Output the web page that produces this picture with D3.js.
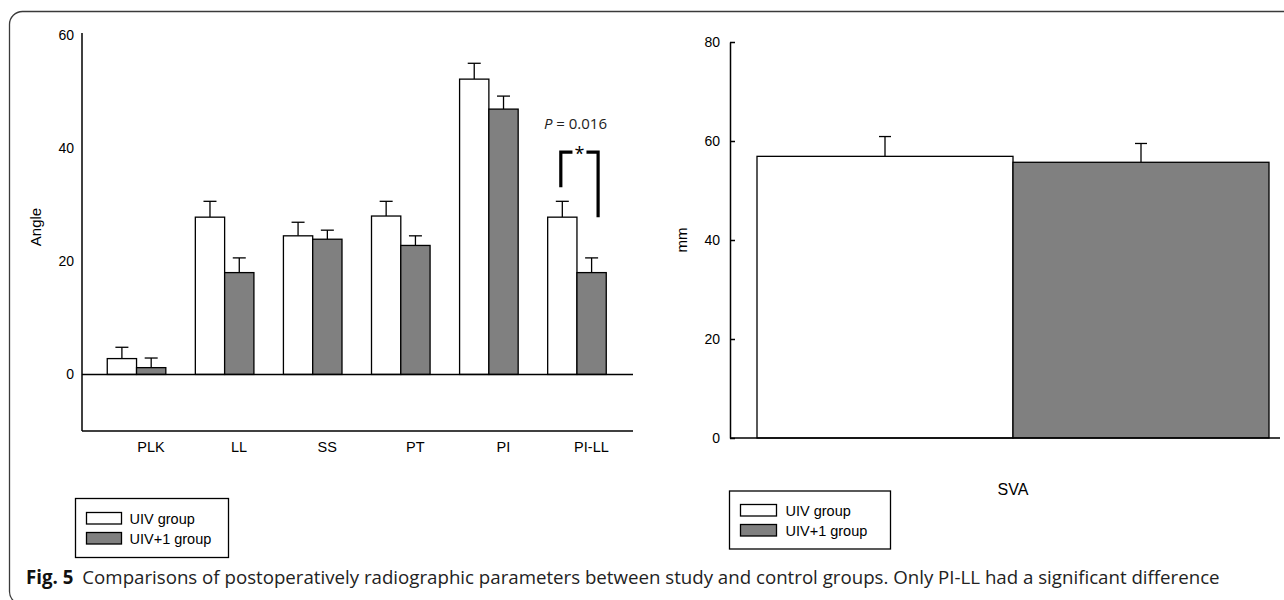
<!DOCTYPE html>
<html>
<head>
<meta charset="utf-8">
<script src="https://cdn.jsdelivr.net/npm/d3@7"></script>
<style>
  html, body { margin: 0; padding: 0; background: #fff; }
  svg { display: block; }
</style>
</head>
<body>
<svg id="chart" width="1284" height="600"></svg>
<script>
// ---------- data ----------
const categories = ["PLK", "LL", "SS", "PT", "PI", "PI-LL"];
const groups = ["UIV group", "UIV+1 group"];
const uivMeans = [2.8, 27.8, 24.5, 28.0, 52.2, 27.8];
const uivErrors = [2.0, 2.8, 2.4, 2.6, 2.8, 2.8];
const uiv1Means = [1.2, 18.0, 23.9, 22.8, 46.9, 18.0];
const uiv1Errors = [1.7, 2.6, 1.6, 1.7, 2.3, 2.6];
const leftTicks = [0, 20, 40, 60];

const svaCategory = ["SVA"];
const svaMeans = [56.9, 55.7];
const svaErrors = [4.0, 3.8];
const rightTicks = [0, 20, 40, 60, 80];

const pValueText = "0.016";
const bracketLevels = { top: 39.3, left: 33.1, right: 27.8 };

const captionBold = "Fig. 5";
const captionText = "Comparisons of postoperatively radiographic parameters between study and control groups. Only PI-LL had a significant difference";

const colors = ["#ffffff", "#808080"];

// ---------- setup ----------
const svg = d3.select("#chart");
const FONT = "'Liberation Sans', Arial, sans-serif";
const CAPFONT = "'Open Sans', 'Noto Sans', sans-serif";

// card border
svg.append("rect")
  .attr("x", 9.5).attr("y", 11.5)
  .attr("width", 1320).attr("height", 593)
  .attr("rx", 13).attr("ry", 13)
  .attr("fill", "none").attr("stroke", "#3a3a3a").attr("stroke-width", 1.3);

// ---------- left chart ----------
const L = { left: 82, right: 633, top: 33, bottom: 431 };
const yL = d3.scaleLinear().domain([-10, 60]).range([431, 35]);
const x0 = d3.scaleBand().domain(categories).range([92.5, 621]).paddingInner(0.335).paddingOuter(0.1675);
const x1 = d3.scaleBand().domain(groups).range([0, x0.bandwidth()]);

const leftG = svg.append("g");

leftG.append("line")
  .attr("x1", L.left).attr("x2", L.left)
  .attr("y1", L.top).attr("y2", yL(-10))
  .attr("stroke", "#000").attr("stroke-width", 1.5);
leftG.append("line")
  .attr("x1", L.left).attr("x2", L.right)
  .attr("y1", yL(-10)).attr("y2", yL(-10))
  .attr("stroke", "#000").attr("stroke-width", 1.5);

const yAxisL = d3.axisLeft(yL).tickValues(leftTicks).tickSize(0).tickPadding(8).tickFormat(d3.format("d"));
const yAxG = leftG.append("g").attr("transform", `translate(${L.left},0)`).call(yAxisL);
yAxG.select(".domain").remove();
yAxG.selectAll("text").attr("font-family", FONT).attr("font-size", 14).attr("fill", "#000");

const rows = categories.map((c, i) => ({
  cat: c,
  vals: [
    { g: groups[0], v: uivMeans[i], e: uivErrors[i] },
    { g: groups[1], v: uiv1Means[i], e: uiv1Errors[i] }
  ]
}));

const catG = leftG.selectAll("g.cat").data(rows).join("g")
  .attr("class", "cat")
  .attr("transform", d => `translate(${x0(d.cat)},0)`);

catG.selectAll("line.err").data(d => d.vals).join("line")
  .attr("class", "err")
  .attr("x1", d => x1(d.g) + x1.bandwidth() / 2)
  .attr("x2", d => x1(d.g) + x1.bandwidth() / 2)
  .attr("y1", d => yL(d.v)).attr("y2", d => yL(d.v + d.e))
  .attr("stroke", "#000").attr("stroke-width", 1.3);
catG.selectAll("line.cap").data(d => d.vals).join("line")
  .attr("class", "cap")
  .attr("x1", d => x1(d.g) + x1.bandwidth() / 2 - 6.5)
  .attr("x2", d => x1(d.g) + x1.bandwidth() / 2 + 6.5)
  .attr("y1", d => yL(d.v + d.e)).attr("y2", d => yL(d.v + d.e))
  .attr("stroke", "#000").attr("stroke-width", 1.3);

catG.selectAll("rect").data(d => d.vals).join("rect")
  .attr("x", d => x1(d.g))
  .attr("width", x1.bandwidth())
  .attr("y", d => yL(Math.max(0, d.v)))
  .attr("height", d => Math.abs(yL(d.v) - yL(0)))
  .attr("fill", (d, i) => colors[i])
  .attr("stroke", "#000").attr("stroke-width", 1.3);

leftG.append("line")
  .attr("x1", L.left).attr("x2", L.right)
  .attr("y1", yL(0)).attr("y2", yL(0))
  .attr("stroke", "#000").attr("stroke-width", 1.5);

leftG.selectAll("text.catlab").data(categories).join("text")
  .attr("class", "catlab")
  .attr("x", d => x0(d) + x0.bandwidth() / 2 + 14.5)
  .attr("y", 452)
  .attr("text-anchor", "middle")
  .attr("font-family", FONT).attr("font-size", 14.5)
  .text(d => d);

leftG.append("text")
  .attr("transform", `translate(41,227) rotate(-90)`)
  .attr("text-anchor", "middle")
  .attr("font-family", FONT).attr("font-size", 15)
  .text("Angle");

// significance bracket on PI-LL
const sigCat = "PI-LL";
const bxL = x0(sigCat) + x1(groups[0]) + x1.bandwidth() / 2 - 1.5;
const bxR = x0(sigCat) + x1(groups[1]) + x1.bandwidth() / 2 + 6.5;
const byT = yL(bracketLevels.top);
const bMid = (bxL + bxR) / 2;
const br = leftG.append("g").attr("stroke", "#000").attr("stroke-width", 3.2).attr("fill", "none");
br.append("path").attr("d", `M${bxL},${yL(bracketLevels.left)} V${byT} H${bMid - 7}`);
br.append("path").attr("d", `M${bMid + 7},${byT} H${bxR} V${yL(bracketLevels.right)}`);
leftG.append("text")
  .attr("x", bMid).attr("y", byT + 8)
  .attr("text-anchor", "middle")
  .attr("font-family", CAPFONT).attr("font-size", 18)
  .text("*");
const pt = leftG.append("text")
  .attr("x", bMid - 4).attr("y", 129)
  .attr("text-anchor", "middle")
  .attr("font-family", CAPFONT).attr("font-size", 15).attr("fill", "#222");
pt.append("tspan").attr("font-style", "italic").text("P");
pt.append("tspan").text(" = " + pValueText);

// left legend
const legL = leftG.append("g").attr("transform", "translate(75.5,498.5)");
legL.append("rect").attr("width", 153).attr("height", 59).attr("fill", "#fff").attr("stroke", "#000").attr("stroke-width", 1.3);
groups.forEach((g, i) => {
  legL.append("rect").attr("x", 11).attr("y", 14 + i * 20).attr("width", 35).attr("height", 11.5)
    .attr("fill", colors[i]).attr("stroke", "#000").attr("stroke-width", 1.3);
  legL.append("text").attr("x", 54).attr("y", 25 + i * 20)
    .attr("font-family", FONT).attr("font-size", 14.5).text(g);
});

// ---------- right chart ----------
const R = { left: 730, right: 1280, top: 41, bottom: 438 };
const yR = d3.scaleLinear().domain([0, 80]).range([438, 42]);
const xR = d3.scaleBand().domain(groups).range([757, 1269]);

const rightG = svg.append("g");
const yAxisR = d3.axisLeft(yR).tickValues(rightTicks).tickSize(-5).tickPadding(10).tickSizeOuter(0).tickFormat(d3.format("d"));
const yAxR = rightG.append("g").attr("transform", `translate(${R.left},0)`).call(yAxisR);
yAxR.select(".domain").attr("stroke", "#000").attr("stroke-width", 1.5);
yAxR.selectAll(".tick line").attr("stroke", "#000").attr("stroke-width", 1.5);
yAxR.selectAll("text").attr("font-family", FONT).attr("font-size", 14).attr("fill", "#000");

const svaRows = groups.map((g, i) => ({ g, v: svaMeans[i], e: svaErrors[i] }));
rightG.selectAll("line.err").data(svaRows).join("line")
  .attr("x1", d => xR(d.g) + xR.bandwidth() / 2).attr("x2", d => xR(d.g) + xR.bandwidth() / 2)
  .attr("y1", d => yR(d.v)).attr("y2", d => yR(d.v + d.e))
  .attr("stroke", "#000").attr("stroke-width", 1.3);
rightG.selectAll("line.cap").data(svaRows).join("line")
  .attr("x1", d => xR(d.g) + xR.bandwidth() / 2 - 6).attr("x2", d => xR(d.g) + xR.bandwidth() / 2 + 6)
  .attr("y1", d => yR(d.v + d.e)).attr("y2", d => yR(d.v + d.e))
  .attr("stroke", "#000").attr("stroke-width", 1.3);
rightG.selectAll("rect.bar").data(svaRows).join("rect")
  .attr("class", "bar")
  .attr("x", d => xR(d.g)).attr("width", xR.bandwidth())
  .attr("y", d => yR(d.v)).attr("height", d => yR(0) - yR(d.v))
  .attr("fill", (d, i) => colors[i]).attr("stroke", "#000").attr("stroke-width", 1.3);

rightG.append("line")
  .attr("x1", R.left).attr("x2", R.right)
  .attr("y1", yR(0)).attr("y2", yR(0))
  .attr("stroke", "#000").attr("stroke-width", 1.5);

rightG.append("text")
  .attr("x", (757 + 1269) / 2).attr("y", 495)
  .attr("text-anchor", "middle")
  .attr("font-family", FONT).attr("font-size", 16)
  .text(svaCategory[0]);

rightG.append("text")
  .attr("transform", `translate(687,240) rotate(-90)`)
  .attr("text-anchor", "middle")
  .attr("font-family", FONT).attr("font-size", 15)
  .text("mm");

const legR = rightG.append("g").attr("transform", "translate(729.5,491)");
legR.append("rect").attr("width", 161).attr("height", 58).attr("fill", "#fff").attr("stroke", "#000").attr("stroke-width", 1.3);
groups.forEach((g, i) => {
  legR.append("rect").attr("x", 11).attr("y", 13.5 + i * 20).attr("width", 36).attr("height", 11.5)
    .attr("fill", colors[i]).attr("stroke", "#000").attr("stroke-width", 1.3);
  legR.append("text").attr("x", 56).attr("y", 24.5 + i * 20)
    .attr("font-family", FONT).attr("font-size", 14.5).text(g);
});

// ---------- caption ----------
const cap = svg.append("text").attr("x", 26).attr("y", 584)
  .attr("font-family", CAPFONT).attr("font-size", 15).attr("fill", "#222");
cap.append("tspan").attr("font-weight", "bold").attr("fill", "#111").text(captionBold);
cap.append("tspan").attr("dx", 9).text(captionText);
const total = cap.node().getComputedTextLength();
const target = 1211 - 26;
const fs = 15 * target / total;
cap.attr("font-size", fs.toFixed(2));
</script>
</body>
</html>
